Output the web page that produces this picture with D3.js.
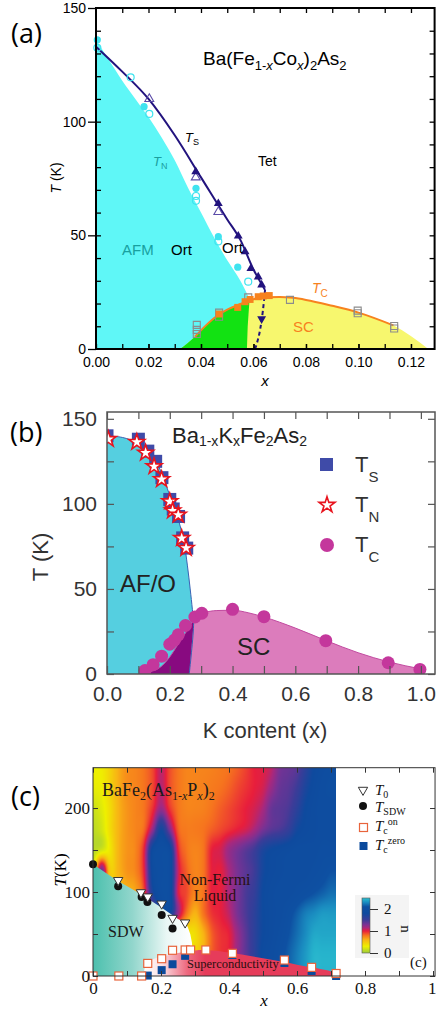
<!DOCTYPE html>
<html>
<head>
<meta charset="utf-8">
<script src="https://cdn.jsdelivr.net/npm/d3@7/dist/d3.min.js"></script>
<style>
  html, body { margin: 0; padding: 0; background: #fff; }
  svg { display: block; }
</style>
</head>
<body>
<svg id="fig" width="436" height="1013"></svg>
<script>
// ================= Panel (a): Ba(Fe1-xCox)2As2 =================
// Néel boundary (upper edge of the AFM region), [x, T(K)]
const coTNEdge = [[0,136],[0.005,127],[0.01,118],[0.015,110],[0.02,102],[0.025,93],[0.03,83],[0.035,71],[0.04,60],[0.045,49],[0.05,39],[0.055,30],[0.0585,22]];
// structural transition line and its dashed continuation into the dome
const coTSLine = [[0,133],[0.01,122],[0.02,110],[0.03,94],[0.04,75.5],[0.05,57],[0.055,48],[0.06,35],[0.0644,26]];
const coTSDash = [[0.0606,0],[0.0613,2.5],[0.0626,9],[0.0636,17],[0.0644,26]];
// superconducting dome (Tc line) and its feet on the T = 0 axis
const coTcLine = [[0.0377,5.4],[0.042,10.5],[0.046,14.5],[0.05,17.3],[0.055,19.8],[0.06,21.9],[0.065,22.8],[0.07,22.9],[0.075,22.5],[0.08,21.6],[0.09,19],[0.1,16],[0.1133,10.4]];
const coDomeFeet = [0.032, 0.1266];
// boundary between the coexistence (green) and pure SC (yellow) parts of the dome
const coGreenEdge = [[0.0575,0],[0.0578,10],[0.0585,22]];
// measured points
const coTNFilled = [[0.0005,136],[0.0183,106.6],[0.0381,70.7],[0.0466,49.4],[0.054,36]];
const coTNOpen = [[0.0005,132.5],[0.0132,119.5],[0.0203,103.4],[0.0381,67.3],[0.0381,65.2],[0.0466,47.3],[0.058,29.6]];
const coTSFilled = [[0.038,78],[0.0466,64],[0.0542,49.7],[0.0568,42.8],[0.059,35.4],[0.0618,31.7],[0.0631,28.2]];
const coTSOpen = [[0.0203,110],[0.038,75.5],[0.0466,60.3]];
const coTSDown = [[0.0631,13.3]];
const coTcFilled = [[0.0469,15.4],[0.054,18.3],[0.0568,20.8],[0.0587,21.8],[0.0618,23],[0.0637,23.3],[0.066,23.5]];
const coTcOpen = [[0.0384,10.6],[0.0384,8.4],[0.0384,6.6],[0.0469,16],[0.0469,14.2],[0.058,22.7],[0.0739,21.6],[0.0997,16.9],[0.0997,15.7],[0.1136,10.1],[0.1136,9]];
const aXTicks = [0,0.02,0.04,0.06,0.08,0.10,0.12];
const aYTicks = [0,50,100,150];

// ================= Panel (b): Ba1-xKxFe2As2 =================
const kAFEdge = [[0,140],[0.05,139],[0.1,135.5],[0.14,128],[0.17,120],[0.19,110],[0.21,100],[0.23,89],[0.245,78],[0.256,64],[0.265,50],[0.272,38],[0.276,30]];
const kAFFoot = [0.262,0];
const kDomeEdge = [[0.11,0],[0.14,1.5],[0.17,4],[0.2,10],[0.225,17],[0.25,24],[0.27,30],[0.29,34.2],[0.31,36],[0.35,37.3],[0.4,37.5],[0.45,36],[0.5,33.5],[0.6,27],[0.7,19.5],[0.8,12.5],[0.9,7],[1.0,3]];
const kTS = [[0,140],[0.1,138],[0.13,131],[0.155,125],[0.175,115.4],[0.2,102.6],[0.211,97],[0.228,92.6],[0.241,80],[0.254,74]];
const kTN = [[0.004,138],[0.095,136.3],[0.123,130],[0.15,122],[0.174,114.4],[0.2,101.4],[0.209,96],[0.227,93.5],[0.238,79.8],[0.252,74]];
const kTc = [[0.121,2],[0.147,5.5],[0.174,10.5],[0.2,17.5],[0.215,20],[0.227,23],[0.25,28.5],[0.28,33.5],[0.302,35.7],[0.4,38],[0.5,33.7],[0.697,19.6],[0.896,6.6],[0.997,2.7]];
const bXTicks = [0,0.1,0.2,0.3,0.4,0.5,0.6,0.7,0.8,0.9,1.0];
const bYTicks = [0,25,50,75,100,125,150];

// ================= Panel (c): BaFe2(As1-xPx)2 =================
// resistivity exponent n on a regular (x, T) grid
const nGridX = [0,0.025,0.05,0.075,0.1,0.125,0.15,0.175,0.2,0.225,0.25,0.275,0.3,0.325,0.35,0.375,0.4,0.425,0.45,0.475,0.5,0.525,0.55,0.575,0.6,0.625,0.65,0.675,0.7,0.725];
const nGridT = [250,225,200,175,150,125,100,75,50,25,0];
const nGrid = [
  [0.3,0.32,0.45,0.62,0.72,0.75,0.8,0.9,1.1,0.9,0.8,0.75,0.75,0.75,0.76,0.78,0.8,0.85,0.92,1.0,1.02,1.1,1.3,1.35,1.4,1.6,1.8,1.9,1.95,1.95],
  [0.28,0.3,0.45,0.62,0.72,0.75,0.8,0.9,1.12,0.9,0.8,0.75,0.75,0.76,0.78,0.8,0.84,0.9,0.95,1.0,1.05,1.2,1.35,1.4,1.5,1.7,1.85,1.95,2.0,2.0],
  [0.18,0.25,0.4,0.6,0.7,0.75,0.8,0.95,1.2,0.95,0.8,0.75,0.75,0.76,0.8,0.85,0.9,0.95,1.0,1.05,1.15,1.35,1.4,1.45,1.6,1.8,1.9,1.95,1.95,1.95],
  [0.12,0.2,0.4,0.6,0.7,0.75,0.82,1.2,1.75,1.3,0.85,0.78,0.78,0.8,0.85,0.9,0.95,1.0,1.05,1.15,1.3,1.4,1.45,1.55,1.75,1.85,1.9,1.95,1.95,1.95],
  [0.1,0.2,0.35,0.6,0.7,0.75,1.0,1.85,2.0,1.9,1.0,0.8,0.75,0.8,1.0,1.05,1.2,1.3,1.4,1.5,1.7,1.8,1.85,1.9,1.95,1.95,1.95,2.0,2.0,2.0],
  [0.2,1.3,0.5,0.6,0.7,0.75,1.0,1.85,2.0,1.95,1.1,0.85,0.75,0.8,1.0,1.0,1.15,1.3,1.4,1.5,1.75,1.85,1.9,1.95,1.95,1.95,2.0,2.05,2.1,2.1],
  [0.3,0.4,0.5,0.55,0.6,0.65,0.9,1.7,2.0,1.95,1.05,0.9,0.75,0.8,1.0,1.0,1.15,1.3,1.45,1.55,1.8,1.9,1.95,1.95,2.0,2.05,2.1,2.15,2.2,2.2],
  [0.3,0.4,0.5,0.55,0.6,0.65,0.8,1.2,1.7,1.8,1.2,0.8,0.6,0.8,0.95,1.0,1.1,1.3,1.45,1.6,1.8,1.9,1.95,2.05,2.15,2.25,2.3,2.35,2.35,2.35],
  [0.3,0.4,0.5,0.55,0.6,0.65,0.7,0.7,0.6,0.5,0.4,0.35,0.4,0.6,0.85,0.95,1.0,1.2,1.4,1.6,1.8,1.9,2.0,2.1,2.2,2.3,2.4,2.4,2.4,2.4],
  [0.3,0.4,0.5,0.55,0.6,0.65,0.7,0.7,0.6,0.5,0.4,0.4,0.45,0.6,0.85,0.95,1.0,1.2,1.4,1.6,1.85,1.95,2.05,2.15,2.25,2.35,2.45,2.45,2.45,2.45],
  [0.3,0.4,0.5,0.55,0.6,0.65,0.7,0.7,0.6,0.5,0.4,0.4,0.45,0.6,0.85,0.95,1.0,1.2,1.4,1.6,1.85,1.95,2.05,2.15,2.25,2.35,2.45,2.45,2.45,2.45]
];
const nStops  = [0, 0.3, 0.6, 0.8, 1.0, 1.15, 1.3, 1.5, 1.8, 2.1, 2.3, 2.45, 2.6];
const nColors = ["#9ccc3c","#eef000","#f8b414","#f6741e","#e81e3c","#a8287e","#783294","#3c3c98","#0e4a9e","#0e50a2","#1a8cc0","#26b4cc","#5cd0dc"];
const pMapXMax = 0.715;
const pSDWEdge = [[0,133],[0.07,114],[0.14,97.5],[0.2,82],[0.25,68],[0.265,64.5],[0.278,59],[0.286,50],[0.291,40],[0.293,30],[0.294,0]];
const pSCEdge = [[0.15,0],[0.151,7],[0.155,13],[0.165,18],[0.18,20.5],[0.2,22.5],[0.25,27.5],[0.3,30.5],[0.35,30.5],[0.4,28],[0.5,21],[0.6,13.5],[0.715,3],[0.715,0]];
const pT0 = [[0.074,114],[0.141,99.5],[0.161,94.5],[0.202,86],[0.234,69],[0.271,63.5]];
const pTSDW = [[0,133],[0.074,107],[0.143,94],[0.16,88],[0.202,72.6],[0.234,56.7]];
const pTcOn = [[0,0],[0.076,0],[0.143,0],[0.161,15],[0.202,20.6],[0.234,30.6],[0.271,31],[0.287,31],[0.332,31],[0.41,27],[0.563,19],[0.643,10.3],[0.715,3]];
const pTcZero = [[0.161,0.5],[0.202,7],[0.234,14],[0.271,24],[0.41,25],[0.563,15.5],[0.643,6],[0.715,0]];
const cXTicks = [0,0.1,0.2,0.3,0.4,0.5,0.6,0.7,0.8,0.9,1];
const cYTicks = [0,50,100,150,200];
const cBarTicks = [0,1,2];

// ---------------------------------------------------------------
const svg = d3.select("#fig");
const defs = svg.append("defs");

// text with sub/superscripts: parts = [[string, kind]], kind in n,i,s,si,p
function rich(parent, x, y, parts, o) {
  const t = parent.append("text").attr("x", x).attr("y", y)
    .attr("font-family", o.family).attr("font-size", o.size).attr("fill", o.fill || "#000");
  if (o.anchor) t.attr("text-anchor", o.anchor);
  if (o.transform) t.attr("transform", o.transform);
  let cur = 0;
  parts.forEach(([s, kind]) => {
    const sp = t.append("tspan").text(s);
    let off = 0, size = o.size;
    if (kind.includes("s")) { off = o.subDy; size = o.subSize; }
    if (kind.includes("p")) { off = o.supDy; size = o.subSize; }
    if (kind.includes("i")) sp.attr("font-style", "italic");
    sp.attr("font-size", size);
    if (off - cur !== 0) sp.attr("dy", off - cur);
    cur = off;
  });
  return t;
}
function styleAxis(g, color, width, family, size, fill) {
  g.attr("font-family", null).attr("font-size", null);
  g.select(".domain").remove();
  g.selectAll(".tick line").attr("stroke", color).attr("stroke-width", width);
  g.selectAll(".tick text").attr("font-family", family).attr("font-size", size).attr("fill", fill);
}

// ======================= (a) =======================
const xA = d3.scaleLinear().domain([0, 0.129]).range([96, 434.6]);
const yA = d3.scaleLinear().domain([0, 150]).range([349, 8]);
const gA = svg.append("g");

// AFM (cyan) region under the Néel line
gA.append("path")
  .attr("d", d3.area().x(d => xA(d[0])).y0(yA(0)).y1(d => yA(d[1])).curve(d3.curveMonotoneX)(coTNEdge))
  .attr("fill", "#5ff7f7");
// SC dome (yellow), then coexistence part (green)
const domePts = [[coDomeFeet[0], 0], ...coTcLine, [coDomeFeet[1], 0]];
const domeArea = d3.area().x(d => xA(d[0])).y0(yA(0)).y1(d => yA(d[1])).curve(d3.curveMonotoneX)(domePts);
gA.append("path").attr("d", domeArea).attr("fill", "#f7f76e");
const greenClip = [[0, 0], ...coGreenEdge, [coGreenEdge[2][0], 40], [0, 40]];
defs.append("clipPath").attr("id", "clipGreen").append("path")
  .attr("d", d3.line().x(d => xA(d[0])).y(d => yA(d[1]))(greenClip) + "Z");
gA.append("path").attr("d", domeArea).attr("fill", "#12e212").attr("clip-path", "url(#clipGreen)");

// lines
gA.append("path").attr("d", d3.line().x(d => xA(d[0])).y(d => yA(d[1])).curve(d3.curveMonotoneX)(coTSLine))
  .attr("fill", "none").attr("stroke", "#22137e").attr("stroke-width", 2);
gA.append("path").attr("d", d3.line().x(d => xA(d[0])).y(d => yA(d[1])).curve(d3.curveMonotoneX)(coTSDash))
  .attr("fill", "none").attr("stroke", "#22137e").attr("stroke-width", 2).attr("stroke-dasharray", "4,3");
gA.append("path").attr("d", d3.line().x(d => xA(d[0])).y(d => yA(d[1])).curve(d3.curveMonotoneX)(coTcLine))
  .attr("fill", "none").attr("stroke", "#f7821e").attr("stroke-width", 2);

// markers
const sq = d3.symbol().type(d3.symbolSquare);
const tri = d3.symbol().type(d3.symbolTriangle);
gA.selectAll(".tcO").data(coTcOpen).join("path")
  .attr("d", sq.size(49)()).attr("transform", d => `translate(${xA(d[0])},${yA(d[1])})`)
  .attr("fill", "none").attr("stroke", "#8c8c8c").attr("stroke-width", 1.1);
gA.selectAll(".tcF").data(coTcFilled).join("path")
  .attr("d", sq.size(49)()).attr("transform", d => `translate(${xA(d[0])},${yA(d[1])})`)
  .attr("fill", "#f7821e");
gA.selectAll(".tnO").data(coTNOpen).join("circle")
  .attr("cx", d => xA(d[0])).attr("cy", d => yA(d[1])).attr("r", 3.5)
  .attr("fill", "none").attr("stroke", "#3fe3ef").attr("stroke-width", 1.2);
gA.selectAll(".tnF").data(coTNFilled).join("circle")
  .attr("cx", d => xA(d[0])).attr("cy", d => yA(d[1])).attr("r", 3.6)
  .attr("fill", "#3fe3ef");
gA.selectAll(".tsO").data(coTSOpen).join("path")
  .attr("d", tri.size(34)()).attr("transform", d => `translate(${xA(d[0])},${yA(d[1])})`)
  .attr("fill", "none").attr("stroke", "#5a4aa8").attr("stroke-width", 1.1);
gA.selectAll(".tsF").data(coTSFilled).join("path")
  .attr("d", tri.size(34)()).attr("transform", d => `translate(${xA(d[0])},${yA(d[1])})`)
  .attr("fill", "#22137e");
gA.selectAll(".tsD").data(coTSDown).join("path")
  .attr("d", tri.size(34)()).attr("transform", d => `translate(${xA(d[0])},${yA(d[1])}) rotate(180)`)
  .attr("fill", "#22137e");

// axes (a)
const axA = (ax, tr) => { const g = gA.append("g").attr("transform", tr).call(ax); styleAxis(g, "#000", 1.3, "Liberation Sans, Arial, sans-serif", 14, "#000"); return g; };
axA(d3.axisBottom(xA).tickValues(d3.range(0.01, 0.125, 0.01)).tickSize(-5).tickFormat(""), `translate(0,${yA(0)})`);
axA(d3.axisBottom(xA).tickValues(aXTicks).tickSize(-5).tickPadding(8).tickFormat(d3.format(".2f")), `translate(0,${yA(0)})`);
axA(d3.axisTop(xA).tickValues(d3.range(0.01, 0.125, 0.01)).tickSize(-5).tickFormat(""), `translate(0,${yA(150)})`);
axA(d3.axisLeft(yA).tickValues(d3.range(10, 150, 10)).tickSize(-5).tickFormat(""), `translate(${xA(0)},0)`);
axA(d3.axisLeft(yA).tickValues(aYTicks).tickSize(8).tickPadding(2), `translate(${xA(0)},0)`);
axA(d3.axisRight(yA).tickValues(d3.range(10, 150, 10)).tickSize(-5).tickFormat(""), `translate(${xA(0.129)},0)`);
gA.append("rect").attr("x", xA(0)).attr("y", yA(150)).attr("width", xA(0.129) - xA(0)).attr("height", yA(0) - yA(150))
  .attr("fill", "none").attr("stroke", "#000").attr("stroke-width", 2);

// labels (a)
const sans = "Liberation Sans, Arial, sans-serif";
gA.append("text").attr("x", 11).attr("y", 43).attr("font-family", "Open Sans, sans-serif").attr("font-size", 27).text("(a)");
rich(gA, 203, 65, [["Ba(Fe","n"],["1-","s"],["x","si"],["Co","n"],["x","si"],[")","n"],["2","s"],["As","n"],["2","s"]],
  { family: sans, size: 19, subSize: 13, subDy: 5 });
rich(gA, 185, 142, [["T","i"],["S","s"]], { family: sans, size: 13, subSize: 9, subDy: 3 });
rich(gA, 153, 166, [["T","i"],["N","s"]], { family: sans, size: 13, subSize: 9, subDy: 3, fill: "#1b9e9e" });
gA.append("text").attr("x", 258).attr("y", 166).attr("font-family", sans).attr("font-size", 14).text("Tet");
gA.append("text").attr("x", 122).attr("y", 255).attr("font-family", sans).attr("font-size", 15).attr("fill", "#18a0a0").text("AFM");
gA.append("text").attr("x", 171).attr("y", 255).attr("font-family", sans).attr("font-size", 15).text("Ort");
gA.append("text").attr("x", 222).attr("y", 253).attr("font-family", sans).attr("font-size", 15).text("Ort");
rich(gA, 312, 293, [["T","i"],["C","s"]], { family: sans, size: 14, subSize: 10, subDy: 4, fill: "#f7821e" });
gA.append("text").attr("x", 293).attr("y", 332).attr("font-family", sans).attr("font-size", 15).attr("fill", "#f7821e").text("SC");
gA.append("text").attr("x", 265).attr("y", 386).attr("text-anchor", "middle").attr("font-family", sans)
  .attr("font-size", 15).attr("font-style", "italic").text("x");
rich(gA, 0, 0, [["T","i"],[" (K)","n"]], { family: sans, size: 14, anchor: "middle", transform: "translate(61,178) rotate(-90)" });

// ======================= (b) =======================
const xB = d3.scaleLinear().domain([0, 1.045]).range([107, 435]);
const yB = d3.scaleLinear().domain([0, 154]).range([674, 412]);
const gB = svg.append("g");
defs.append("clipPath").attr("id", "clipB").append("rect")
  .attr("x", xB(0)).attr("y", yB(154)).attr("width", xB(1.045) - xB(0)).attr("height", yB(0) - yB(154));
const gBp = gB.append("g").attr("clip-path", "url(#clipB)");

const afD = "M" + xB(0) + "," + yB(0) + "L" +
  d3.line().x(d => xB(d[0])).y(d => yB(d[1])).curve(d3.curveCatmullRom)(kAFEdge).slice(1) +
  "L" + xB(kAFFoot[0]) + "," + yB(kAFFoot[1]) + "Z";
gBp.append("path").attr("d", afD).attr("fill", "#55cfe0");
const domeD = d3.area().x(d => xB(d[0])).y0(yB(0)).y1(d => yB(d[1])).curve(d3.curveMonotoneX)(kDomeEdge);
gBp.append("path").attr("d", domeD).attr("fill", "#dc7cbc");
defs.append("clipPath").attr("id", "clipAF").append("path").attr("d", afD);
gBp.append("path").attr("d", domeD).attr("fill", "#880a80").attr("clip-path", "url(#clipAF)");
// boundary lines
gBp.append("path").attr("d", d3.line().x(d => xB(d[0])).y(d => yB(d[1])).curve(d3.curveCatmullRom)([...kAFEdge, kAFFoot]))
  .attr("fill", "none").attr("stroke", "#3a62b4").attr("stroke-width", 1);
gBp.append("path").attr("d", d3.line().x(d => xB(d[0])).y(d => yB(d[1])).curve(d3.curveMonotoneX)(kDomeEdge))
  .attr("fill", "none").attr("stroke", "#c24aa0").attr("stroke-width", 1);
// markers
gBp.selectAll(".ts").data(kTS).join("rect")
  .attr("x", d => xB(d[0]) - 6.5).attr("y", d => yB(d[1]) - 6.5).attr("width", 13).attr("height", 13)
  .attr("fill", "#3f4ba8");
const star = d3.symbol().type(d3.symbolStar).size(78)();
gBp.selectAll(".tn").data(kTN).join("path")
  .attr("d", star).attr("transform", d => `translate(${xB(d[0])},${yB(d[1])})`)
  .attr("fill", "#fff").attr("stroke", "#e8141e").attr("stroke-width", 1.6);
gBp.selectAll(".tc").data(kTc).join("circle")
  .attr("cx", d => xB(d[0])).attr("cy", d => yB(d[1])).attr("r", 6.5).attr("fill", "#c4379c");

// axes (b)
const axB = (ax, tr) => { const g = gB.append("g").attr("transform", tr).call(ax); styleAxis(g, "#555", 1.2, sans, 21, "#333"); return g; };
axB(d3.axisBottom(xB).tickValues(bXTicks).tickSize(-8).tickPadding(12)
  .tickFormat(d => (Math.round(d * 10) % 2 === 0) ? d3.format(".1f")(d) : ""), `translate(0,${yB(0)})`);
axB(d3.axisTop(xB).tickValues(bXTicks).tickSize(-7).tickFormat(""), `translate(0,${yB(154)})`);
axB(d3.axisLeft(yB).tickValues(bYTicks).tickSize(-7).tickPadding(10).tickFormat(d => d % 50 === 0 ? d : ""), `translate(${xB(0)},0)`);
axB(d3.axisRight(yB).tickValues(bYTicks).tickSize(-7).tickFormat(""), `translate(${xB(1.045)},0)`);
gB.append("rect").attr("x", xB(0)).attr("y", yB(154)).attr("width", xB(1.045) - xB(0)).attr("height", yB(0) - yB(154))
  .attr("fill", "none").attr("stroke", "#555").attr("stroke-width", 1.5);

// labels (b)
gB.append("text").attr("x", 10).attr("y", 442).attr("font-family", "Open Sans, sans-serif").attr("font-size", 27).text("(b)");
rich(gB, 172, 443, [["Ba","n"],["1-x","s"],["K","n"],["x","s"],["Fe","n"],["2","s"],["As","n"],["2","s"]],
  { family: sans, size: 22, subSize: 14, subDy: 3, fill: "#222" });
// legend
gB.append("rect").attr("x", 320).attr("y", 458).attr("width", 13).attr("height", 13).attr("fill", "#3f4ba8");
gB.append("path").attr("d", star).attr("transform", "translate(327,505)").attr("fill", "#fff").attr("stroke", "#e8141e").attr("stroke-width", 1.6);
gB.append("circle").attr("cx", 327).attr("cy", 545).attr("r", 7).attr("fill", "#c4379c");
rich(gB, 355, 472, [["T","n"],["S","s"]], { family: sans, size: 22, subSize: 15, subDy: 10, fill: "#333" });
rich(gB, 355, 512, [["T","n"],["N","s"]], { family: sans, size: 22, subSize: 15, subDy: 10, fill: "#333" });
rich(gB, 355, 552, [["T","n"],["C","s"]], { family: sans, size: 22, subSize: 15, subDy: 10, fill: "#333" });
gB.append("text").attr("x", 120).attr("y", 592).attr("font-family", sans).attr("font-size", 24).attr("fill", "#222").text("AF/O");
gB.append("text").attr("x", 237).attr("y", 655).attr("font-family", sans).attr("font-size", 24).attr("fill", "#222").text("SC");
gB.append("text").attr("x", 265).attr("y", 738).attr("text-anchor", "middle").attr("font-family", sans)
  .attr("font-size", 22).attr("fill", "#333").text("K content (x)");
gB.append("text").attr("transform", "translate(48,557) rotate(-90)").attr("text-anchor", "middle")
  .attr("font-family", sans).attr("font-size", 22).attr("fill", "#333").text("T (K)");

// ======================= (c) =======================
const xC = d3.scaleLinear().domain([0, 1]).range([93, 433]);
const yC = d3.scaleLinear().domain([0, 248]).range([976, 767.7]);
const gC = svg.append("g");
const serif = "Liberation Serif, Times New Roman, serif";

const nColor = d3.scaleLinear().domain(nStops).range(nColors).interpolate(d3.interpolateRgb).clamp(true);
const gx = d3.scaleLinear().domain([nGridX[0], nGridX[nGridX.length - 1]]).range([0, nGridX.length - 1]).clamp(true);
const gy = d3.scaleLinear().domain([nGridT[0], nGridT[nGridT.length - 1]]).range([0, nGridT.length - 1]).clamp(true);
const cr = (p0, p1, p2, p3, t) => 0.5 * (2 * p1 + (-p0 + p2) * t + (2 * p0 - 5 * p1 + 4 * p2 - p3) * t * t + (-p0 + 3 * p1 - 3 * p2 + p3) * t * t * t);
function nAt(x, T) {
  const fx = gx(x), fy = gy(T);
  const i = Math.min(Math.floor(fx), nGridX.length - 2), j = Math.min(Math.floor(fy), nGridT.length - 2);
  const tx = fx - i, ty = fy - j;
  const ci = k => Math.max(0, Math.min(nGridX.length - 1, k));
  const cj = k => Math.max(0, Math.min(nGridT.length - 1, k));
  const rows = [-1, 0, 1, 2].map(dj => {
    const r = nGrid[cj(j + dj)];
    return cr(r[ci(i - 1)], r[ci(i)], r[ci(i + 1)], r[ci(i + 2)], tx);
  });
  return cr(rows[0], rows[1], rows[2], rows[3], ty);
}
// raster of n(x, T)
const hx0 = xC(0), hx1 = xC(pMapXMax), hy0 = yC(248), hy1 = yC(0);
const cw = Math.round(hx1 - hx0), ch = Math.round(hy1 - hy0);
const cv = document.createElement("canvas"); cv.width = cw; cv.height = ch;
const ctx = cv.getContext("2d");
const img = ctx.createImageData(cw, ch);
for (let j = 0; j < ch; j++) {
  for (let i = 0; i < cw; i++) {
    const c = d3.rgb(nColor(nAt(xC.invert(hx0 + i + 0.5), yC.invert(hy0 + j + 0.5))));
    const k = 4 * (j * cw + i);
    img.data[k] = c.r; img.data[k + 1] = c.g; img.data[k + 2] = c.b; img.data[k + 3] = 255;
  }
}
ctx.putImageData(img, 0, 0);
gC.append("image").attr("x", hx0).attr("y", hy0).attr("width", cw).attr("height", ch)
  .attr("preserveAspectRatio", "none").attr("href", cv.toDataURL());

// SDW region (teal fading to white)
const gSDW = defs.append("linearGradient").attr("id", "gSDW").attr("gradientUnits", "userSpaceOnUse")
  .attr("x1", xC(0)).attr("x2", xC(0.29)).attr("y1", 0).attr("y2", 0);
[[0, "#4cc0ae"], [0.4, "#92d6cc"], [0.75, "#eaf7f5"], [1, "#ffffff"]].forEach(s => gSDW.append("stop").attr("offset", s[0]).attr("stop-color", s[1]));
gC.append("path").attr("d", d3.line().x(d => xC(d[0])).y(d => yC(d[1]))([[0, 0], ...pSDWEdge]) + "Z").attr("fill", "url(#gSDW)");
// superconducting dome (white to red)
const gSC = defs.append("linearGradient").attr("id", "gSC").attr("gradientUnits", "userSpaceOnUse")
  .attr("x1", xC(0.15)).attr("x2", xC(0.33)).attr("y1", 0).attr("y2", 0);
[[0, "#ffffff"], [0.3, "#f9dde2"], [0.7, "#ee6a80"], [1, "#e63c5a"]].forEach(s => gSC.append("stop").attr("offset", s[0]).attr("stop-color", s[1]));
gC.append("path").attr("d", d3.line().x(d => xC(d[0])).y(d => yC(d[1])).curve(d3.curveCatmullRom)(pSCEdge) + "Z").attr("fill", "url(#gSC)");

// markers (c)
gC.selectAll(".tz").data(pTcZero).join("rect")
  .attr("x", d => xC(d[0]) - 4).attr("y", d => yC(d[1]) - 4).attr("width", 8).attr("height", 8).attr("fill", "#0a4a9c");
gC.selectAll(".ton").data(pTcOn).join("rect")
  .attr("x", d => xC(d[0]) - 4).attr("y", d => yC(d[1]) - 4).attr("width", 8).attr("height", 8)
  .attr("fill", "#fff").attr("stroke", "#e8643c").attr("stroke-width", 1.2);
gC.selectAll(".sdw").data(pTSDW).join("circle")
  .attr("cx", d => xC(d[0])).attr("cy", d => yC(d[1])).attr("r", 4).attr("fill", "#111");
const triDown = d3.symbol().type(d3.symbolTriangle).size(38)();
gC.selectAll(".t0").data(pT0).join("path")
  .attr("d", triDown).attr("transform", d => `translate(${xC(d[0])},${yC(d[1])}) rotate(180)`)
  .attr("fill", "#fff").attr("stroke", "#333").attr("stroke-width", 1);

// axes (c)
const axC = (ax, tr) => { const g = gC.append("g").attr("transform", tr).call(ax); styleAxis(g, "#333", 1, serif, 17, "#111"); return g; };
const cBottom = axC(d3.axisBottom(xC).tickValues(cXTicks).tickSize(-5).tickPadding(6)
  .tickFormat(d => (Math.round(d * 10) % 2 !== 0) ? "" : (d === 0 ? "0" : d === 1 ? "1" : d3.format(".1f")(d))), `translate(0,${yC(0)})`);
// keep the last label inside the page edge
cBottom.selectAll(".tick text").filter(d => d === 1).attr("text-anchor", "end").attr("dx", 3);
axC(d3.axisTop(xC).tickValues(cXTicks).tickSize(-5).tickFormat(""), `translate(0,${yC(248)})`);
axC(d3.axisLeft(yC).tickValues(cYTicks).tickSize(-5).tickPadding(3).tickFormat(d => d % 100 === 0 ? d : ""), `translate(${xC(0)},0)`);
axC(d3.axisRight(yC).tickValues(cYTicks).tickSize(-5).tickFormat(""), `translate(${xC(1.006)},0)`);
gC.append("rect").attr("x", xC(0)).attr("y", yC(248)).attr("width", xC(1.006) - xC(0)).attr("height", yC(0) - yC(248))
  .attr("fill", "none").attr("stroke", "#333").attr("stroke-width", 1);

// labels (c)
gC.append("text").attr("x", 11).attr("y", 806).attr("font-family", "Open Sans, sans-serif").attr("font-size", 27).text("(c)");
rich(gC, 102, 796, [["BaFe","n"],["2","s"],["(As","n"],["1-","s"],["x","si"],["P","n"],["x","si"],[")","n"],["2","s"]],
  { family: serif, size: 18, subSize: 12, subDy: 4, fill: "#1a1a1a" });
gC.append("text").attr("x", 215).attr("y", 885).attr("text-anchor", "middle").attr("font-family", serif).attr("font-size", 16).attr("fill", "#2a1010").text("Non-Fermi");
gC.append("text").attr("x", 215).attr("y", 901).attr("text-anchor", "middle").attr("font-family", serif).attr("font-size", 16).attr("fill", "#2a1010").text("Liquid");
gC.append("text").attr("x", 108).attr("y", 937).attr("font-family", serif).attr("font-size", 16).attr("fill", "#1a1a1a").text("SDW");
gC.append("text").attr("x", 187).attr("y", 968).attr("font-family", serif).attr("font-size", 12.5).attr("fill", "#2a1010").text("Superconductivity");
gC.append("text").attr("x", 264).attr("y", 1006).attr("text-anchor", "middle").attr("font-family", serif)
  .attr("font-size", 17).attr("font-style", "italic").text("x");
rich(gC, 0, 0, [["T","i"],["(K)","n"]], { family: serif, size: 17, anchor: "middle", transform: "translate(66,870) rotate(-90)" });

// legend (c)
gC.append("path").attr("d", triDown).attr("transform", "translate(363,790) rotate(180)").attr("fill", "#fff").attr("stroke", "#333").attr("stroke-width", 1);
gC.append("circle").attr("cx", 363).attr("cy", 806).attr("r", 4).attr("fill", "#111");
gC.append("rect").attr("x", 359.5).attr("y", 823.5).attr("width", 8).attr("height", 8).attr("fill", "#fff").attr("stroke", "#e8643c").attr("stroke-width", 1.2);
gC.append("rect").attr("x", 359.5).attr("y", 842).attr("width", 8).attr("height", 8).attr("fill", "#0a4a9c");
const legOpt = { family: serif, size: 15, subSize: 10, subDy: 3, supDy: -6, fill: "#111" };
rich(gC, 375, 795, [["T","i"],["0","s"]], legOpt);
rich(gC, 375, 812, [["T","i"],["SDW","s"]], legOpt);
rich(gC, 375, 831, [["T","i"],["c","s"],["on","p"]], legOpt);
rich(gC, 375, 850, [["T","i"],["c","s"],["zero","p"]], legOpt);

// colour bar for n
const barY = d3.scaleLinear().domain([0, 2.5]).range([953, 898]);
gC.append("rect").attr("x", 355).attr("y", 895).attr("width", 54).attr("height", 63).attr("fill", "#f4f4f4");
const gBar = defs.append("linearGradient").attr("id", "gBar").attr("gradientUnits", "userSpaceOnUse")
  .attr("x1", 0).attr("x2", 0).attr("y1", barY(0)).attr("y2", barY(2.5));
d3.range(0, 2.501, 0.05).forEach(v => gBar.append("stop").attr("offset", v / 2.5).attr("stop-color", nColor(v)));
gC.append("rect").attr("x", 362).attr("y", barY(2.5)).attr("width", 8).attr("height", barY(0) - barY(2.5))
  .attr("fill", "url(#gBar)").attr("stroke", "#555").attr("stroke-width", 0.6);
const barAx = gC.append("g").attr("transform", "translate(370,0)")
  .call(d3.axisRight(barY).tickValues(cBarTicks).tickSize(8).tickPadding(6).tickFormat(d3.format("d")));
styleAxis(barAx, "#333", 1, serif, 15, "#111");
gC.append("text").attr("transform", "translate(401,929) rotate(90)").attr("text-anchor", "middle")
  .attr("font-family", serif).attr("font-size", 15).attr("fill", "#111").text("n");
gC.append("text").attr("x", 410).attr("y", 967).attr("font-family", serif).attr("font-size", 15).attr("fill", "#111").text("(c)");
</script>
</body>
</html>
